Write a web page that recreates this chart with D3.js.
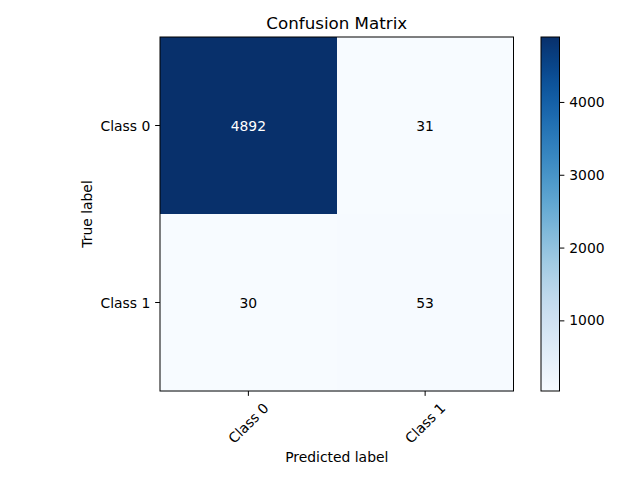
<!DOCTYPE html>
<html>
<head>
<meta charset="utf-8">
<script src="https://cdn.jsdelivr.net/npm/d3@7"></script>
<style>
body { margin: 0; background: #fff; }
text { font-family: "DejaVu Sans", sans-serif; }
</style>
</head>
<body>
<svg id="chart" width="640" height="480"></svg>
<script>
const classes = ["Class 0", "Class 1"];
const matrixRows = [
  [4892, 31],
  [30, 53]
];
const colorbarTicks = [1000, 2000, 3000, 4000];
const titleText = "Confusion Matrix";
const xLabelText = "Predicted label";
const yLabelText = "True label";

const svg = d3.select("#chart");
const ax = { left: 160, top: 37, right: 513.5, bottom: 391 };
const fs = 13.9;
const tickLen = 4.86, tickPad = 4.86;

const cells = [];
matrixRows.forEach((row, i) => row.forEach((v, j) => cells.push({ i, j, v })));
const allVals = cells.map(c => c.v);
const vmin = d3.min(allVals), vmax = d3.max(allVals);

const x = d3.scaleBand().domain(classes).range([ax.left, ax.right]);
const y = d3.scaleBand().domain(classes).range([ax.top, ax.bottom]);
const color = d3.scaleSequential(d3.interpolateBlues).domain([vmin, vmax]);

svg.append("rect").attr("width", 640).attr("height", 480).attr("fill", "#fff");

svg.append("g").selectAll("rect").data(cells).join("rect")
  .attr("x", d => x(classes[d.j]))
  .attr("y", d => y(classes[d.i]))
  .attr("width", x.bandwidth() + 0.5)
  .attr("height", y.bandwidth() + 0.5)
  .attr("fill", d => color(d.v))
  .attr("shape-rendering", "crispEdges");

const thresh = vmax / 2;
svg.append("g").selectAll("text").data(cells).join("text")
  .attr("x", d => x(classes[d.j]) + x.bandwidth() / 2)
  .attr("y", d => y(classes[d.i]) + y.bandwidth() / 2)
  .attr("text-anchor", "middle")
  .attr("dominant-baseline", "central")
  .attr("font-size", fs)
  .attr("fill", d => d.v > thresh ? "#fff" : "#000")
  .text(d => d.v);

// frame
svg.append("rect")
  .attr("x", ax.left).attr("y", ax.top)
  .attr("width", ax.right - ax.left).attr("height", ax.bottom - ax.top)
  .attr("fill", "none").attr("stroke", "#000").attr("stroke-width", 1);

// x ticks
const xt = svg.append("g");
classes.forEach(c => {
  const cx = x(c) + x.bandwidth() / 2;
  xt.append("line").attr("x1", cx).attr("x2", cx).attr("y1", ax.bottom).attr("y2", ax.bottom + tickLen)
    .attr("stroke", "#000").attr("stroke-width", 1);
  const ty = 423;
  xt.append("text").attr("x", cx).attr("y", ty)
    .attr("text-anchor", "middle").attr("dominant-baseline", "central")
    .attr("font-size", fs)
    .attr("transform", `rotate(-45, ${cx}, ${ty})`)
    .text(c);
});

// y ticks
const yt = svg.append("g");
classes.forEach(c => {
  const cy = y(c) + y.bandwidth() / 2;
  yt.append("line").attr("x1", ax.left - tickLen).attr("x2", ax.left).attr("y1", cy).attr("y2", cy)
    .attr("stroke", "#000").attr("stroke-width", 1);
  yt.append("text").attr("x", ax.left - tickLen - tickPad).attr("y", cy)
    .attr("text-anchor", "end").attr("dominant-baseline", "central")
    .attr("font-size", fs).text(c);
});

// title and labels
svg.append("text").attr("x", (ax.left + ax.right) / 2).attr("y", 29)
  .attr("text-anchor", "middle").attr("font-size", 16.7).text(titleText);
svg.append("text").attr("x", (ax.left + ax.right) / 2).attr("y", 457)
  .attr("text-anchor", "middle").attr("dominant-baseline", "central")
  .attr("font-size", fs).text(xLabelText);
svg.append("text").attr("transform", `translate(87, ${(ax.top + ax.bottom) / 2}) rotate(-90)`)
  .attr("text-anchor", "middle").attr("dominant-baseline", "central")
  .attr("font-size", fs).text(yLabelText);

// colorbar
const cb = { left: 541, right: 559.5, top: 37, bottom: 391 };
const cy = d3.scaleLinear().domain([vmin, vmax]).range([cb.bottom, cb.top]);
const defs = svg.append("defs");
const grad = defs.append("linearGradient").attr("id", "cbgrad")
  .attr("x1", 0).attr("y1", 1).attr("x2", 0).attr("y2", 0);
d3.range(0, 1.0001, 0.02).forEach(t => {
  grad.append("stop").attr("offset", t).attr("stop-color", color(vmin + t * (vmax - vmin)));
});
svg.append("rect").attr("x", cb.left).attr("y", cb.top)
  .attr("width", cb.right - cb.left).attr("height", cb.bottom - cb.top)
  .attr("fill", "url(#cbgrad)");
svg.append("rect").attr("x", cb.left).attr("y", cb.top)
  .attr("width", cb.right - cb.left).attr("height", cb.bottom - cb.top)
  .attr("fill", "none").attr("stroke", "#000").attr("stroke-width", 1);
const cbAxis = d3.axisRight(cy).tickValues(colorbarTicks).tickSize(tickLen).tickPadding(tickPad).tickFormat(d3.format("d"));
const cbg = svg.append("g").attr("transform", `translate(${cb.right},0)`).call(cbAxis);
cbg.select(".domain").remove();
cbg.selectAll("text").attr("font-size", fs).attr("font-family", "DejaVu Sans, sans-serif").attr("fill", "#000");
cbg.selectAll("line").attr("stroke", "#000");
</script>
</body>
</html>
